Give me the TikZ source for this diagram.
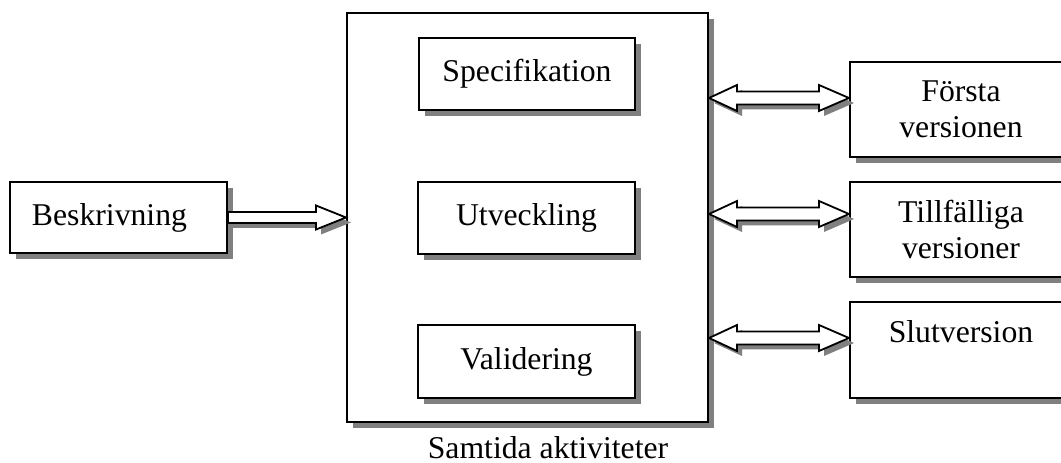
\documentclass[tikz,border=0pt]{standalone}
\usepackage{fontspec}
\setmainfont{Liberation Serif}
\usetikzlibrary{calc,shadows}
\definecolor{shadowgray}{HTML}{808080}

% Outline of a hollow arrow: shaft from #1 to a head whose tip is at #2,
% moved by the offset #4
\newcommand\hollowsingle[4]{%
  \path[#3] let \p1=($(#1)+(#4)$), \p2=($(#2)+(#4)$) in
    (\x1,\y1+5.5bp) -- (\x2-30bp,\y1+5.5bp) -- (\x2-30bp,\y1+12bp) --
    (\x2,\y1) -- (\x2-30bp,\y1-12bp) -- (\x2-30bp,\y1-5.5bp) --
    (\x1,\y1-5.5bp) -- cycle;}
% Outline of a hollow arrow with heads at both ends
\newcommand\hollowdouble[4]{%
  \path[#3] let \p1=($(#1)+(#4)$), \p2=($(#2)+(#4)$) in
    (\x1,\y1) -- (\x1+28bp,\y1+13bp) -- (\x1+28bp,\y1+6.5bp) --
    (\x2-30bp,\y1+6.5bp) -- (\x2-30bp,\y1+13bp) -- (\x2,\y1) --
    (\x2-30bp,\y1-13bp) -- (\x2-30bp,\y1-6.5bp) -- (\x1+28bp,\y1-6.5bp) --
    (\x1+28bp,\y1-13bp) -- cycle;}
\newcommand\fatsingle[2]{%
  \hollowsingle{#1}{#2}{arrowshadow}{5bp,-5bp}%
  \hollowsingle{#1}{#2}{arrowbody}{0bp,0bp}}
\newcommand\fatdouble[2]{%
  \hollowdouble{#1}{#2}{arrowshadow}{5bp,-5bp}%
  \hollowdouble{#1}{#2}{arrowbody}{0bp,0bp}}

\tikzset{
  box/.style={draw, line width=2bp, fill=white, inner sep=0pt, align=center,
    drop shadow={shadow xshift=6bp, shadow yshift=-6bp, fill=shadowgray, opacity=1}},
  arrowshadow/.style={fill=shadowgray},
  arrowbody/.style={fill=white, draw, line width=1.8bp, line join=miter},
}

\begin{document}
\begin{tikzpicture}[x=1bp, y=-1bp, font=\fontsize{31.7bp}{36bp}\selectfont]
\useasboundingbox (0,0) rectangle (1061,463);
\clip (0,0) rectangle (1061,463);

% central container with the three concurrent activities
\node[box, minimum width=361bp, minimum height=409bp] (big) at (527.5,217.5) {};
\node[box, minimum width=216bp, minimum height=72bp] (spec) at (527,74) {Specifikation};
\node[box, minimum width=217bp, minimum height=72bp] (utv) at (526.5,218) {Utveckling};
\node[box, minimum width=217bp, minimum height=73bp] (val) at (526.5,361.5) {Validering};
\node (samtida) at (548,458) [anchor=base, inner sep=0pt] {Samtida aktiviteter};

% input on the left
\node[box, align=left, text width=173bp, inner xsep=22bp, minimum height=71bp]
  (besk) at (118.5,217.5) {Beskrivning};

% results on the right
\node[box, minimum width=222bp, minimum height=95bp] (first) at (961,109.5) {Första\\versionen};
\node[box, minimum width=222bp, minimum height=95bp] (tillf) at (961,229.5) {Tillfälliga\\versioner};
\node[box, minimum width=222bp, minimum height=96bp] (slut) at (961,350) {Slutversion\\\mbox{}};

% arrow ends
\coordinate (besktip) at (big.west |- besk.east);
\coordinate (d1a) at (big.east |- 0,98);
\coordinate (d1b) at (first.west |- d1a);
\coordinate (d2a) at (big.east |- 0,214);
\coordinate (d2b) at (tillf.west |- d2a);
\coordinate (d3a) at (big.east |- 0,338);
\coordinate (d3b) at (slut.west |- d3a);

\fatsingle{besk.east}{besktip}
\fatdouble{d1a}{d1b}
\fatdouble{d2a}{d2b}
\fatdouble{d3a}{d3b}
\end{tikzpicture}
\end{document}
